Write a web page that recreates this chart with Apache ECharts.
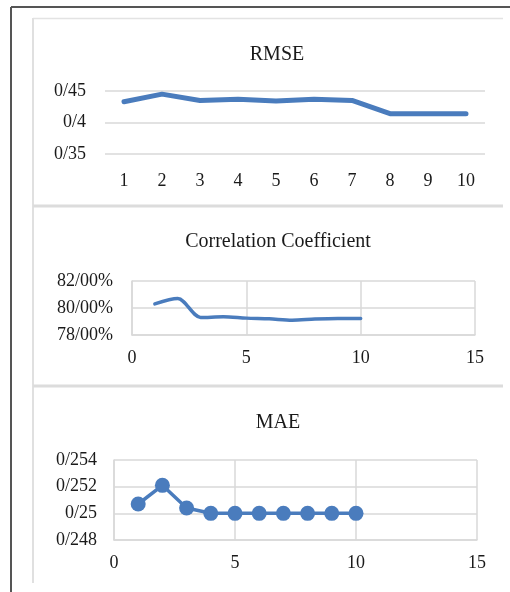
<!DOCTYPE html>
<html>
<head>
<meta charset="utf-8">
<script src="https://cdn.jsdelivr.net/npm/echarts@6/dist/echarts.min.js"></script>
<style>
html,body{margin:0;padding:0;background:#fff;}
#chart{width:510px;height:592px;}
</style>
</head>
<body>
<div id="chart"></div>
<script>
// ---- data ----
var rmseCategories = ['1','2','3','4','5','6','7','8','9','10'];
var rmseValues = [0.433, 0.445, 0.435, 0.437, 0.434, 0.437, 0.435, 0.414, 0.414, 0.414];
var rmseYTicks = [0.35, 0.4, 0.45];
var rmseYLabels = ['0/35', '0/4', '0/45'];

var corrX = [1, 2, 3, 4, 5, 6, 7, 8, 9, 10];
var corrValues = [80.3, 80.7, 79.3, 79.35, 79.25, 79.2, 79.1, 79.18, 79.22, 79.22];
var corrYTicks = [78, 80, 82];
var corrYLabels = ['78/00%', '80/00%', '82/00%'];

var maeX = [1, 2, 3, 4, 5, 6, 7, 8, 9, 10];
var maeValues = [0.2507, 0.2521, 0.2504, 0.25, 0.25, 0.25, 0.25, 0.25, 0.25, 0.25];
var maeYTicks = [0.248, 0.25, 0.252, 0.254];
var maeYLabels = ['0/248', '0/25', '0/252', '0/254'];

var xTicks = [0, 5, 10, 15];
var xLabels = ['0', '5', '10', '15'];

var titles = ['RMSE', 'Correlation Coefficient', 'MAE'];

// ---- helpers ----
function labelFor(ticks, labels) {
  return function (v) {
    for (var i = 0; i < ticks.length; i++) {
      if (Math.abs(v - ticks[i]) < 1e-9) return labels[i];
    }
    return '';
  };
}
function pairs(xs, ys) { return xs.map(function (x, i) { return [x, ys[i]]; }); }

var FONT = '"Liberation Serif", "DejaVu Serif", serif';
var BLUE = '#4a7cbd';
var GRIDC = '#d9d9d9';
var labelStyle = { color: '#1a1a1a', fontFamily: FONT, fontSize: 18 };

var chart = echarts.init(document.getElementById('chart'), null, { renderer: 'canvas' });

var option = {
  backgroundColor: '#fff',
  animation: false,
  title: [
    { text: titles[0], left: 272, top: 40, textAlign: 'center', textStyle: { fontFamily: FONT, fontSize: 20, fontWeight: 'normal', color: '#1a1a1a' } },
    { text: titles[1], left: 273, top: 227, textAlign: 'center', textStyle: { fontFamily: FONT, fontSize: 20, fontWeight: 'normal', color: '#1a1a1a' } },
    { text: titles[2], left: 273, top: 408, textAlign: 'center', textStyle: { fontFamily: FONT, fontSize: 20, fontWeight: 'normal', color: '#1a1a1a' } }
  ],
  graphic: [
    { type: 'line', shape: { x1: 11, y1: 7, x2: 510, y2: 7 }, style: { stroke: '#555', lineWidth: 2 }, z: 10 },
    { type: 'line', shape: { x1: 11, y1: 7, x2: 11, y2: 592 }, style: { stroke: '#555', lineWidth: 2 }, z: 10 },
    { type: 'line', shape: { x1: 33, y1: 18.5, x2: 503, y2: 18.5 }, style: { stroke: '#e3e3e3', lineWidth: 1.5 }, z: 10 },
    { type: 'line', shape: { x1: 33, y1: 18, x2: 33, y2: 583 }, style: { stroke: '#e0e0e0', lineWidth: 2 }, z: 10 },
    { type: 'line', shape: { x1: 33, y1: 206, x2: 503, y2: 206 }, style: { stroke: '#dcdcdc', lineWidth: 3 }, z: 10 },
    { type: 'line', shape: { x1: 33, y1: 386, x2: 503, y2: 386 }, style: { stroke: '#dcdcdc', lineWidth: 3 }, z: 10 }
  ],
  grid: [
    { left: 105, width: 380, top: 91, height: 63 },
    { left: 132, width: 343, top: 281, height: 54 },
    { left: 114, width: 363, top: 460, height: 80 }
  ],
  xAxis: [
    {
      gridIndex: 0, type: 'category', data: rmseCategories, boundaryGap: true,
      axisLine: { show: false }, axisTick: { show: false },
      axisLabel: Object.assign({ margin: 18 }, labelStyle),
      splitLine: { show: false }
    },
    {
      gridIndex: 1, type: 'value', min: 0, max: 15, interval: 5,
      axisLine: { show: true, lineStyle: { color: GRIDC, width: 1.5 } }, axisTick: { show: false },
      axisLabel: Object.assign({ margin: 14, formatter: labelFor(xTicks, xLabels) }, labelStyle),
      splitLine: { show: true, lineStyle: { color: GRIDC, width: 1.5 } }
    },
    {
      gridIndex: 2, type: 'value', min: 0, max: 15, interval: 5,
      axisLine: { show: true, lineStyle: { color: GRIDC, width: 1.5 } }, axisTick: { show: false },
      axisLabel: Object.assign({ margin: 14, formatter: labelFor(xTicks, xLabels) }, labelStyle),
      splitLine: { show: true, lineStyle: { color: GRIDC, width: 1.5 } }
    }
  ],
  yAxis: [
    {
      gridIndex: 0, type: 'value', min: 0.35, max: 0.45, interval: 0.05,
      axisLine: { show: false }, axisTick: { show: false },
      axisLabel: Object.assign({ margin: 19, formatter: labelFor(rmseYTicks, rmseYLabels) }, labelStyle),
      splitLine: { show: true, lineStyle: { color: GRIDC, width: 1.5 } }
    },
    {
      gridIndex: 1, type: 'value', min: 78, max: 82, interval: 2,
      axisLine: { show: true, lineStyle: { color: GRIDC, width: 1.5 } }, axisTick: { show: false },
      axisLabel: Object.assign({ margin: 19, formatter: labelFor(corrYTicks, corrYLabels) }, labelStyle),
      splitLine: { show: true, lineStyle: { color: GRIDC, width: 1.5 } }
    },
    {
      gridIndex: 2, type: 'value', min: 0.248, max: 0.254, interval: 0.002,
      axisLine: { show: true, lineStyle: { color: GRIDC, width: 1.5 } }, axisTick: { show: false },
      axisLabel: Object.assign({ margin: 17, formatter: labelFor(maeYTicks, maeYLabels) }, labelStyle),
      splitLine: { show: true, lineStyle: { color: GRIDC, width: 1.5 } }
    }
  ],
  series: [
    {
      type: 'line', xAxisIndex: 0, yAxisIndex: 0, data: rmseValues,
      showSymbol: false, lineStyle: { color: BLUE, width: 5, cap: 'round', join: 'round' }, itemStyle: { color: BLUE }
    },
    {
      type: 'line', xAxisIndex: 1, yAxisIndex: 1, data: pairs(corrX, corrValues),
      smooth: 0.3, showSymbol: false,
      lineStyle: { color: BLUE, width: 3.5, cap: 'round' }, itemStyle: { color: BLUE }
    },
    {
      type: 'line', xAxisIndex: 2, yAxisIndex: 2, data: pairs(maeX, maeValues),
      symbol: 'circle', symbolSize: 15, showSymbol: true,
      lineStyle: { color: BLUE, width: 3.5 }, itemStyle: { color: BLUE }
    }
  ]
};
chart.setOption(option);
</script>
</body>
</html>
